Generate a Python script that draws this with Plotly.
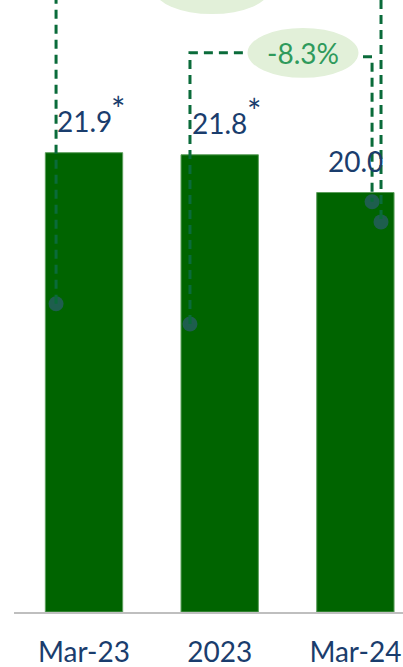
import plotly.graph_objects as go

# ---- data ----
categories = ["Mar-23", "2023", "Mar-24"]
values = [21.9, 21.8, 20.0]
label_marks = ["*", "*", ""]
change_labels = ["-8.7%", "-8.3%"]
change_from = [0, 1]
change_to = [2, 2]

# ---- style ----
BAR = "#006400"
NAVY = "#1A3D6D"
DASH = "#0A6B3A"
DOT = "#1E5E4E"
BUBBLE = "#E2F0D9"
BUBBLE_TXT = "#2F9A5C"
FONT = "Lato"

fig = go.Figure()
fig.add_trace(go.Bar(
    x=list(range(len(categories))), y=values, width=0.57,
    marker=dict(color=BAR, line=dict(color="#5C9E5C", width=1)),
    hoverinfo="skip",
))

# value labels
for i, (v, m) in enumerate(zip(values, label_marks)):
    fig.add_annotation(x=i, y=v, text=f"{v:.1f}", showarrow=False,
                       xanchor="center", yanchor="bottom", yshift=13,
                       font=dict(family=FONT, size=28, color=NAVY))
    if m:
        fig.add_annotation(x=i, y=v, text=m, showarrow=False,
                           xanchor="left", yanchor="bottom", xshift=25, yshift=22,
                           font=dict(family=FONT, size=34, color=NAVY))

# connector geometry (style offsets, data units)
conn = [
    dict(lx=-0.206, ldot=0.671, rx=0.189, rdot=0.93, top_l=29.7, top_r=29.7,
         bx=0.943, bw=0.85, by=29.7, bh=1.19),
    dict(lx=-0.219, ldot=0.63, rx=0.123, rdot=0.978, top_l=26.66, top_r=26.47,
         bx=1.614, bw=0.818, by=26.66, bh=1.19),
]
dot_x, dot_y = [], []
for k, (a, b, lab) in enumerate(zip(change_from, change_to, change_labels)):
    c = conn[k]
    x1 = a + c["lx"]
    y1 = values[a] * c["ldot"]
    x2 = b + c["rx"]
    y2 = values[b] * c["rdot"]
    line = dict(color=DASH, width=3, dash="9px,6px")
    fig.add_shape(type="path", path=f"M {x1},{y1} L {x1},{c['top_l']} L {c['bx']},{c['top_l']}",
                  line=line, layer="above")
    fig.add_shape(type="path", path=f"M {c['bx']},{c['top_r']} L {x2},{c['top_r']} L {x2},{y2}",
                  line=line, layer="above")
    fig.add_shape(type="circle", x0=c["bx"] - c["bw"] / 2, x1=c["bx"] + c["bw"] / 2,
                  y0=c["by"] - c["bh"], y1=c["by"] + c["bh"],
                  fillcolor=BUBBLE, line=dict(width=0), layer="above")
    fig.add_annotation(x=c["bx"], y=c["by"], text=lab, showarrow=False,
                       font=dict(family=FONT, size=28, color=BUBBLE_TXT))
    dot_x += [x1, x2]
    dot_y += [y1, y2]

fig.add_trace(go.Scatter(x=dot_x, y=dot_y, mode="markers",
                         marker=dict(size=15, color=DOT), hoverinfo="skip",
                         cliponaxis=False))

fig.update_layout(
    width=403, height=667, autosize=False,
    margin=dict(l=14, r=0, t=0, b=55, autoexpand=False),
    paper_bgcolor="white", plot_bgcolor="white",
    showlegend=False,
    xaxis=dict(range=[-0.516, 2.351], tickvals=list(range(len(categories))),
               ticktext=categories, showgrid=False, zeroline=False,
               showline=True, linecolor="#BFBFBF", linewidth=2, ticks="",
               automargin=False, ticklabelstandoff=14,
               tickfont=dict(family=FONT, size=28, color=NAVY)),
    yaxis=dict(range=[0, 29.18], visible=False, automargin=False),
)

fig.write_html("out.html", config={"displayModeBar": False},
               post_script="document.body.style.margin='0';document.body.style.overflow='hidden';")
